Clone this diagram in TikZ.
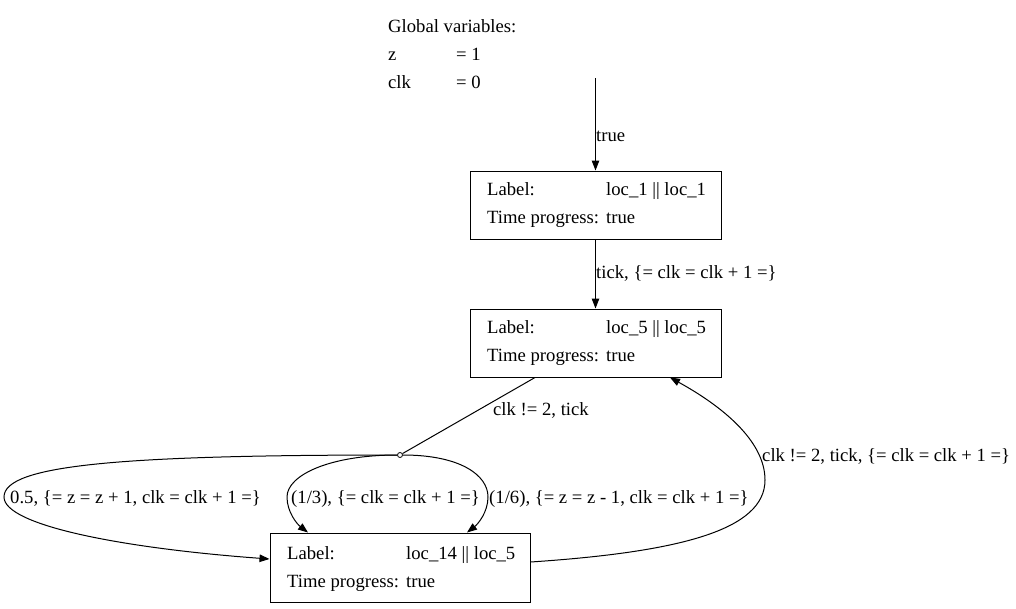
\documentclass[tikz,border=0pt]{standalone}
\usepackage{fontspec}
\setmainfont{Liberation Serif}
\usetikzlibrary{arrows.meta}
\tikzset{
  state/.style={draw, line width=1pt, rectangle, minimum width=251pt, minimum height=68pt, inner sep=0pt},
  txt/.style={anchor=base west, inner sep=0pt, font=\fontsize{18.67}{22}\selectfont},
  edge/.style={line width=1pt, -{Triangle[length=10pt,width=7.5pt]}},
  plain/.style={line width=1pt},
  junction/.style={circle, draw, fill=white, line width=0.8pt, inner sep=0pt, minimum size=5pt}
}
\begin{document}
\begin{tikzpicture}[x=1pt,y=-1pt]
\useasboundingbox (0,0) rectangle (1016,608);
% global variables
\node[txt] (g0) at (388,32) {Global variables:};
\node[txt] (g1) at (388,60) {z};
\node[txt] (g1v) at (456,60) {= 1};
\node[txt] (g2) at (388,88) {clk};
\node[txt] (g2v) at (456,88) {= 0};
% states
\node[state] (b1) at (595.5,205) {};
\node[txt] (b1l) at (487,195) {Label:};
\node[txt] (b1lv) at (606,195) {loc\_1 || loc\_1};
\node[txt] (b1t) at (487,223) {Time progress:};
\node[txt] (b1tv) at (606,223) {true};
\node[state] (b2) at (595.5,343) {};
\node[txt] (b2l) at (487,333) {Label:};
\node[txt] (b2lv) at (606,333) {loc\_5 || loc\_5};
\node[txt] (b2t) at (487,361) {Time progress:};
\node[txt] (b2tv) at (606,361) {true};
\node[state, minimum width=260pt, minimum height=69pt] (b3) at (400,567.5) {};
\node[txt] (b3l) at (287,559) {Label:};
\node[txt] (b3lv) at (406,559) {loc\_14 || loc\_5};
\node[txt] (b3t) at (287,587) {Time progress:};
\node[txt] (b3tv) at (406,587) {true};
% junction
\node[junction] (c) at (400,455) {};
% initial
\coordinate (start) at (595.5,78);
\draw[edge] (start) -- (b1);
\node[txt] (ltrue) at (596,141) {true};
\draw[edge] (b1) -- (b2);
\node[txt] (ltick) at (596,278) {tick, \{= clk = clk + 1 =\}};
\draw[plain] ([xshift=-60.5pt]b2.south) -- (c);
\node[txt] (lclk) at (493,415) {clk != 2, tick};
% branches
\draw[edge] (c) .. controls (120,455) and (4,465) .. (4,497)
  .. controls (4,525) and (120,548) .. ([yshift=8.5pt]b3.west);
\node[txt] (lhalf) at (10,503) {0.5, \{= z = z + 1, clk = clk + 1 =\}};
\draw[edge] (c) .. controls (330,455) and (287,475) .. (287,497)
  .. controls (287,512) and (297,524) .. ([xshift=-92pt]b3.north);
\node[txt] (lthird) at (291,503) {(1/3), \{= clk = clk + 1 =\}};
\draw[edge] (c) .. controls (460,455) and (488,475) .. (488,497)
  .. controls (488,512) and (478,524) .. ([xshift=67pt]b3.north);
\node[txt] (lsixth) at (489,503) {(1/6), \{= z = z - 1, clk = clk + 1 =\}};
% return
\draw[edge] ([yshift=5.5pt]b3.east) .. controls (680,552) and (765,530) .. (765,480)
  .. controls (765,440) and (720,405) .. ([xshift=74.5pt]b2.south);
\node[txt] (lret) at (762,461) {clk != 2, tick, \{= clk = clk + 1 =\}};
\end{tikzpicture}
\end{document}
